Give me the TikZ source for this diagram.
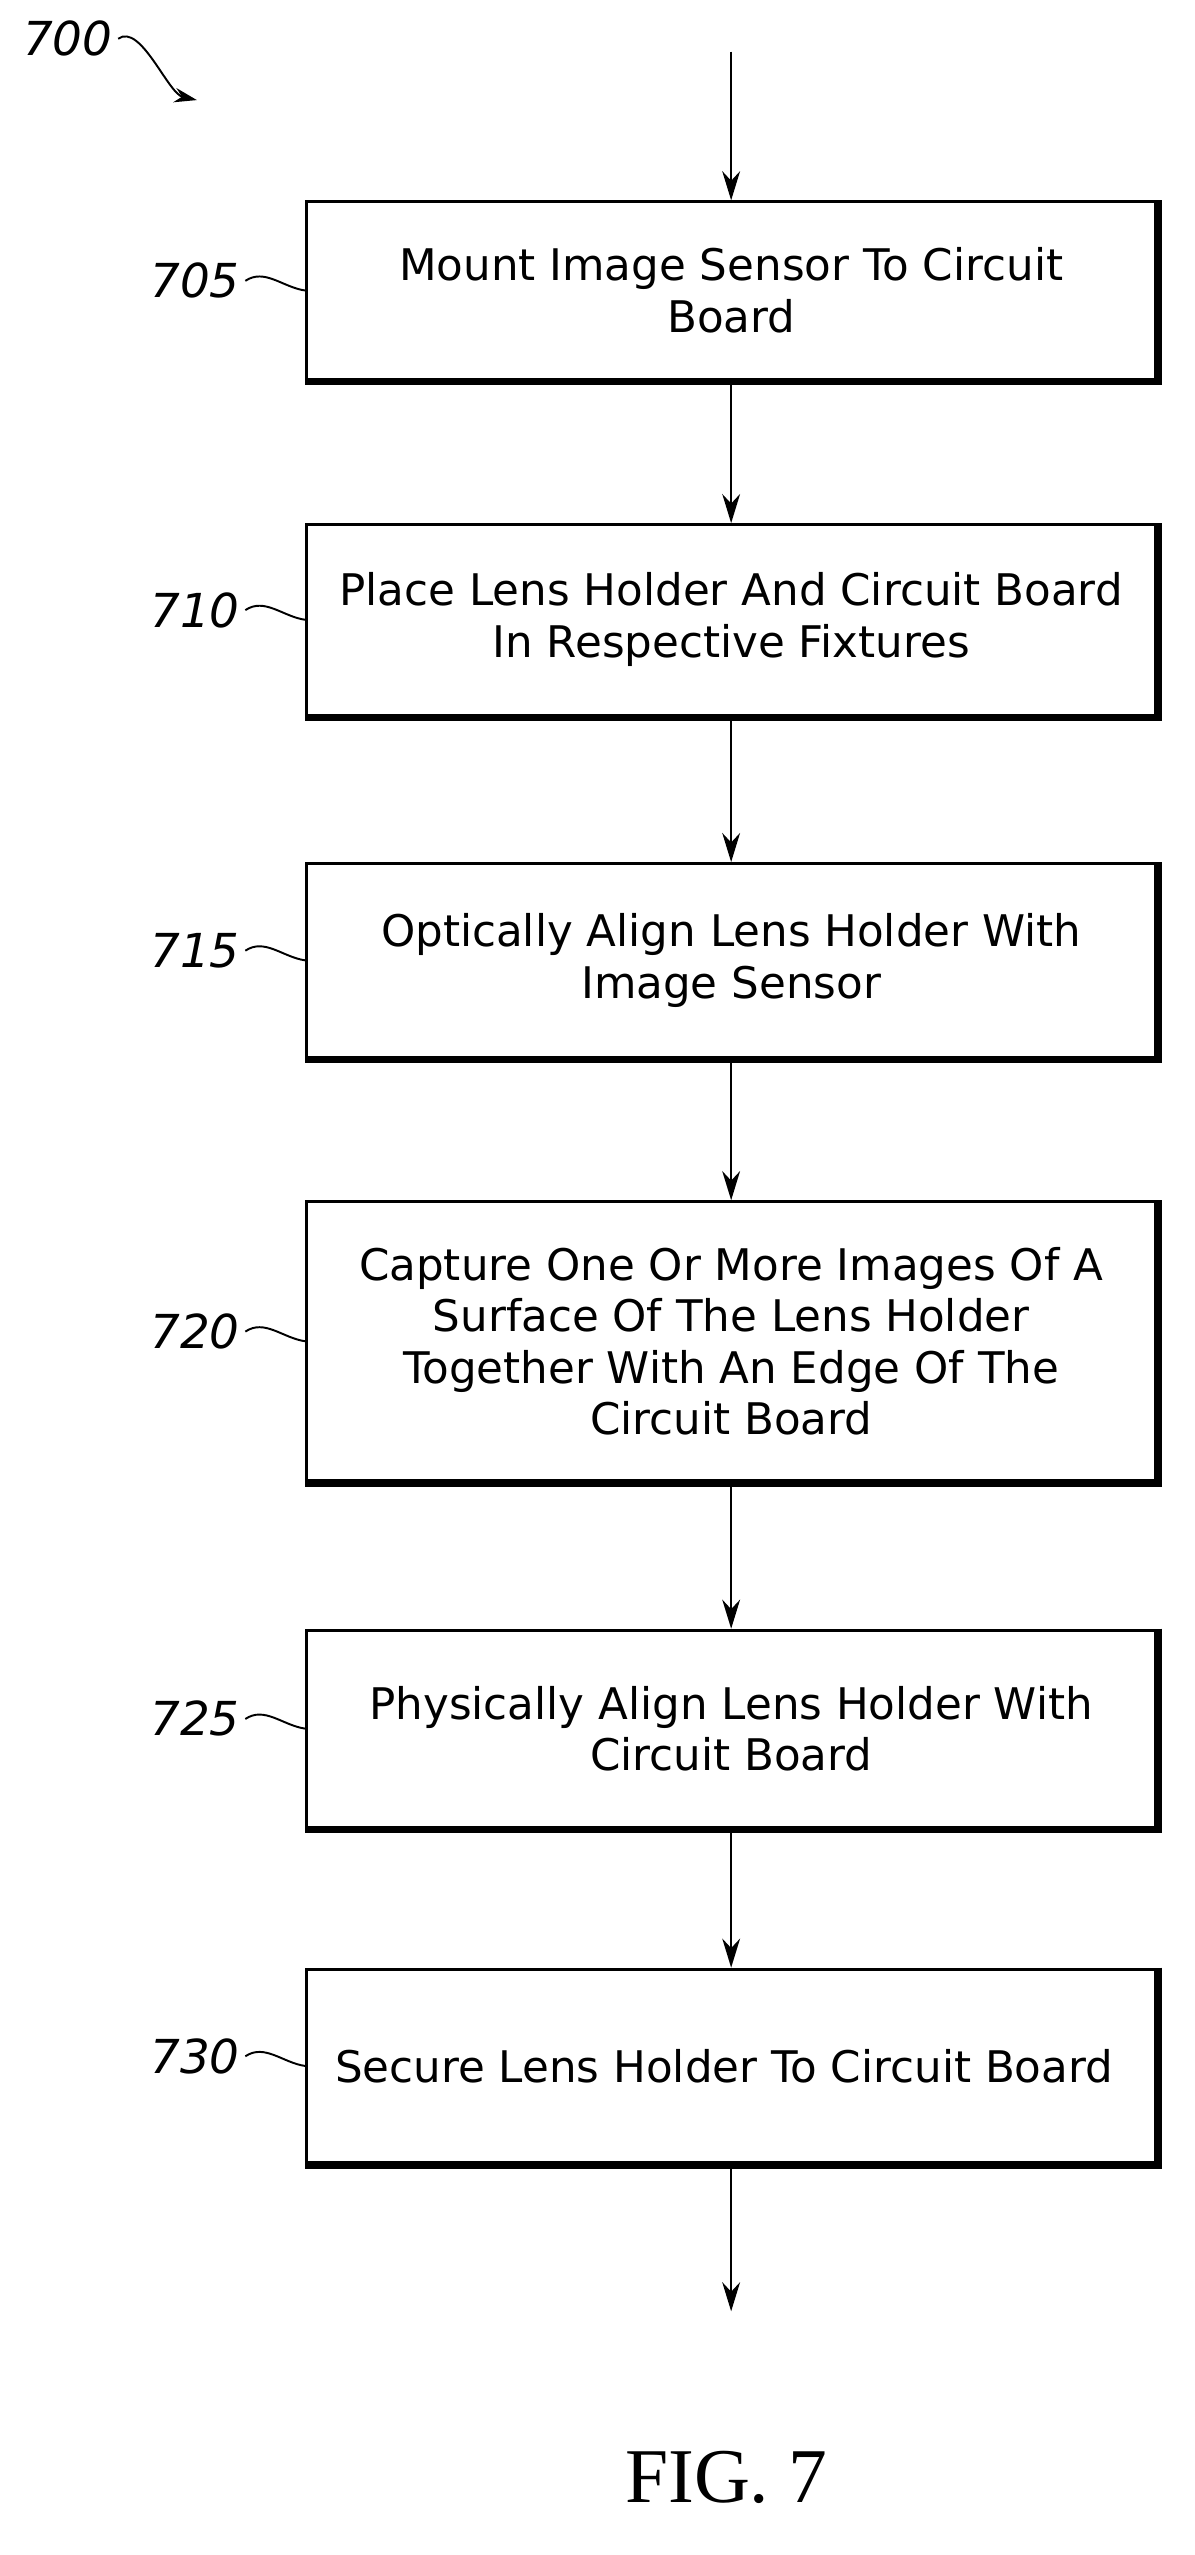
\documentclass[tikz,border=0pt]{standalone}
\usepackage{fontspec}
\setmainfont{Liberation Serif}
\setsansfont{DejaVu Sans}
\usetikzlibrary{arrows.meta}

\tikzset{
  stepbox/.style={draw, line width=1.8pt, minimum width=526pt, align=center,
    font=\sffamily\fontsize{27}{32}\selectfont, inner sep=0pt},
  ref/.style={font=\sffamily\itshape\fontsize{29}{32}\selectfont, anchor=east},
  flow/.style={-{Stealth[length=18pt,width=11pt]}, line width=1.6pt},
}

\begin{document}
\begin{tikzpicture}[x=1pt,y=-1pt]
  \useasboundingbox (0,0) rectangle (740,1583);

  \foreach \n/\y/\h/\txt in {
        705/180/110/{Mount Image Sensor To Circuit\\Board},
        710/384/118/{Place Lens Holder And Circuit Board\\In Respective Fixtures},
        715/595/120/{Optically Align Lens Holder With\\Image Sensor},
        720/831/173/{Capture One Or More Images Of A\\Surface Of The Lens Holder\\Together With An Edge Of The\\Circuit Board},
        725/1071/122/{Physically Align Lens Holder With\\Circuit Board},
        730/1280/120/{Secure Lens Holder To Circuit Board}
      } {
    \node[stepbox, minimum height=\h pt] (s\n) at (453,\y) {\txt};
    % heavier right and bottom edge
    \draw[line width=3.5pt] ([xshift=1pt]s\n.north east) -- ([xshift=1pt,yshift=-1pt]s\n.south east) -- ([yshift=-1pt]s\n.south west);
    \node[ref] (l\n) at (152,\y-6) {\n};
    \draw[line width=1.2pt] (l\n.east) .. controls +(12,-8) and +(-14,-2) .. (s\n.west);
  }

  \node[font=\sffamily\itshape\fontsize{29}{32}\selectfont] (l700) at (42,24) {700};
  \coordinate (a700) at (122,62);
  \draw[-{Stealth[length=14pt,width=9pt]}, line width=1.2pt] (l700.east) .. controls +(14,-10) and +(-18,-4) .. (a700);

  \coordinate (top) at (453,32);
  \coordinate (bot) at (453,1432);
  \draw[flow] (top) -- (s705);
  \draw[flow] (s705) -- (s710);
  \draw[flow] (s710) -- (s715);
  \draw[flow] (s715) -- (s720);
  \draw[flow] (s720) -- (s725);
  \draw[flow] (s725) -- (s730);
  \draw[flow] (s730) -- (bot);

  \node[font=\fontsize{48}{52}\selectfont] (fig) at (450,1535) {FIG. 7};
\end{tikzpicture}
\end{document}
